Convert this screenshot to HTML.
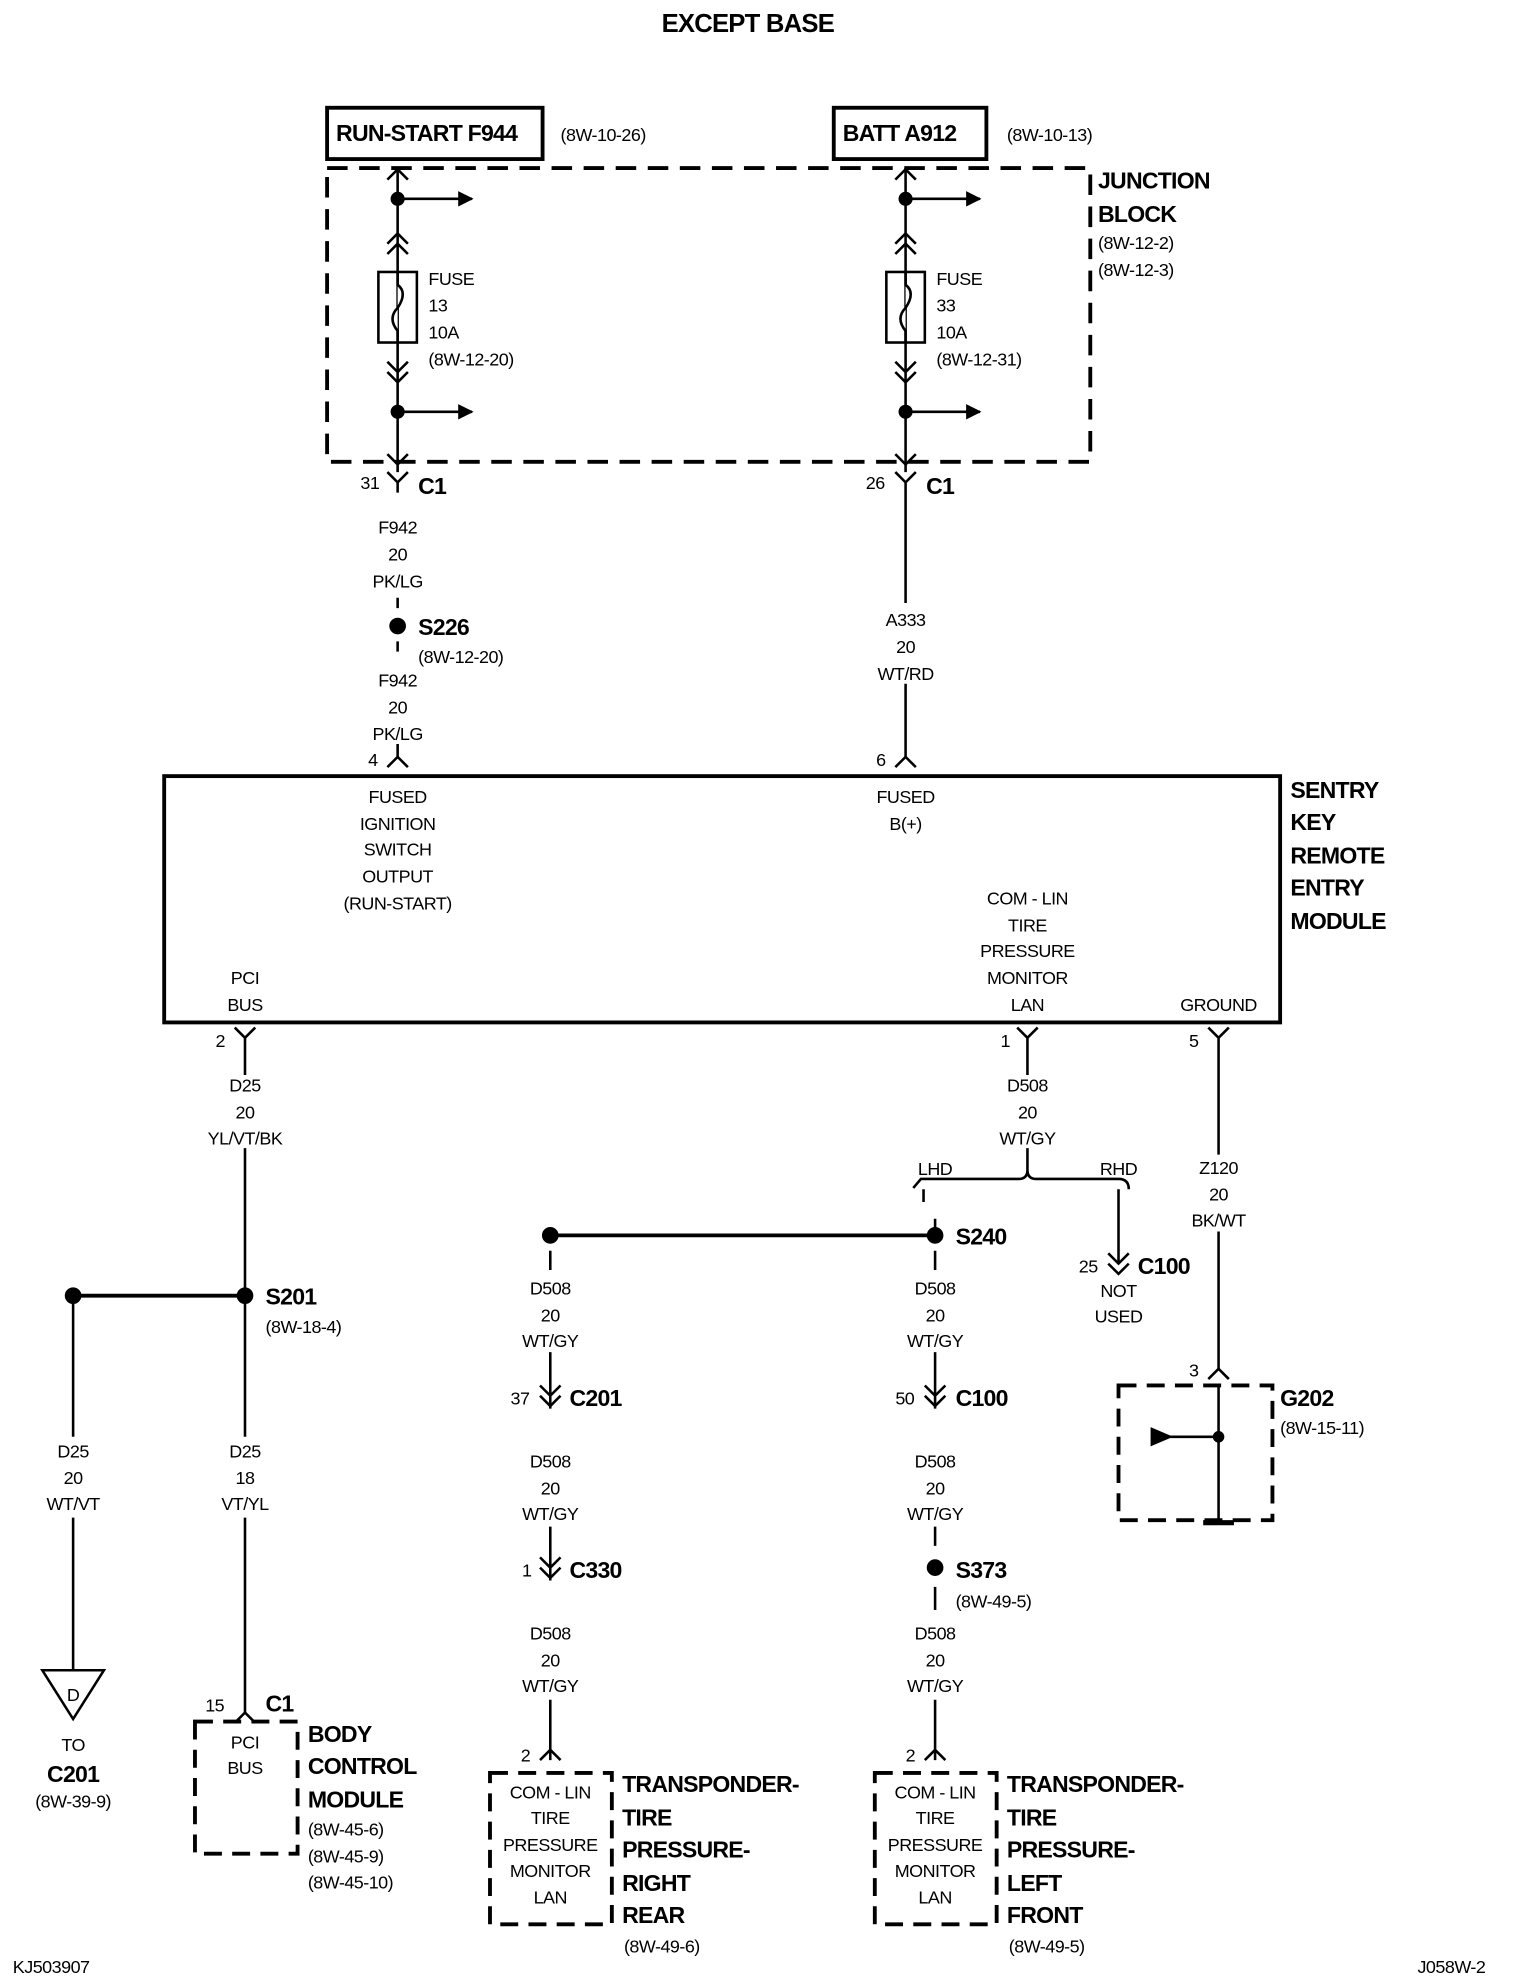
<!DOCTYPE html>
<html><head><meta charset="utf-8"><style>
html,body{margin:0;padding:0;background:#fff;}
svg{display:block;}
text{font-family:"Liberation Sans",Arial,sans-serif;fill:#000;letter-spacing:-0.4px;}
.t{font-size:14px;text-anchor:middle;}
.l{font-size:14px;}
.b{font-size:18px;font-weight:bold;letter-spacing:-0.6px;}
</style></head><body>
<svg width="1520" height="1982" viewBox="0 0 1185 1545" preserveAspectRatio="none" xmlns="http://www.w3.org/2000/svg">
<defs>
<marker id="ar" viewBox="0 0 10 10" refX="9" refY="5" markerWidth="6" markerHeight="6" orient="auto"><path d="M0,0 L10,5 L0,10 z"/></marker>
</defs>
<g stroke="#000" fill="none" stroke-width="2">
<text x="583" y="25" class="b" style="text-anchor:middle;font-size:20px" stroke="none">EXCEPT BASE</text>
<rect x="255" y="84" width="168" height="40" stroke-width="3"/>
<rect x="650" y="84" width="119" height="40" stroke-width="3"/>
<rect x="255" y="131" width="595" height="229" stroke-width="3" stroke-dasharray="16,9"/>
<path d="M310,131 V368"/>
<path d="M302,140 L310,132 L318,140 M302,190 L310,182 L318,190 M302,198 L310,190 L318,198"/>
<rect x="295" y="212" width="30" height="55"/>
<path d="M310,212 V222 q8,6 0,18 q-8,8 0,18 V267" fill="#fff"/>
<path d="M302,282 L310,290 L318,282 M302,290 L310,298 L318,290"/>
<path d="M302,354 L310,362 L318,354"/>
<path d="M310,155 H368" marker-end="url(#ar)"/>
<path d="M310,321 H368" marker-end="url(#ar)"/>
<circle cx="310" cy="155" r="4.5" fill="#000"/>
<circle cx="310" cy="321" r="4.5" fill="#000"/>
<path d="M302,368 L310,376 L318,368 M310,376 V384"/>
<path d="M706,131 V368"/>
<path d="M698,140 L706,132 L714,140 M698,190 L706,182 L714,190 M698,198 L706,190 L714,198"/>
<rect x="691" y="212" width="30" height="55"/>
<path d="M706,212 V222 q8,6 0,18 q-8,8 0,18 V267" fill="#fff"/>
<path d="M698,282 L706,290 L714,282 M698,290 L706,298 L714,290"/>
<path d="M698,354 L706,362 L714,354"/>
<path d="M706,155 H764" marker-end="url(#ar)"/>
<path d="M706,321 H764" marker-end="url(#ar)"/>
<circle cx="706" cy="155" r="4.5" fill="#000"/>
<circle cx="706" cy="321" r="4.5" fill="#000"/>
<path d="M698,368 L706,376 L714,368 M706,376 V470 M706,533 V590"/>
<path d="M698,598 L706,590 L714,598"/>
<path d="M310,466 V474 M310,500 V508 M310,580 V590"/>
<path d="M302,598 L310,590 L318,598"/>
<circle cx="310" cy="488" r="5.5" fill="#000"/>
<rect x="128" y="605" width="870" height="192" stroke-width="3"/>
<path d="M183,801 L191,809 L199,801 M191,809 V838 M191,895 V1120 M191,1183 V1335"/>
<path d="M793,801 L801,809 L809,801 M801,809 V838 M801,895 V912"/>
<path d="M942,801 L950,809 L958,801 M950,809 V900 M950,960 V1068"/>
<path d="M942,1075 L950,1067 L958,1075"/>
<path d="M712,926 L718,919 H794 Q801,919 801,912 Q801,919 808,919 H872 Q880,919 880,927"/>
<path d="M720,927 V937 M729,950 V963"/>
<path d="M872,927 V985 M864,977 L872,985 L880,977 M864,985 L872,993 L880,985"/>
<path d="M57,1010 H191" stroke-width="3"/>
<circle cx="57" cy="1010" r="5.5" fill="#000"/>
<circle cx="191" cy="1010" r="5.5" fill="#000"/>
<path d="M57,1010 V1120 M57,1183 V1302"/>
<path d="M33,1302 H81 L57,1340 Z"/>
<path d="M183,1343 L191,1335 L199,1343"/>
<rect x="152" y="1342" width="80" height="103" stroke-width="3" stroke-dasharray="14,8"/>
<path d="M429,963 H729" stroke-width="3"/>
<circle cx="429" cy="963" r="5.5" fill="#000"/>
<circle cx="729" cy="963" r="5.5" fill="#000"/>
<path d="M429,975 V990 M429,1054 V1098 M421,1080 L429,1088 L437,1080 M421,1088 L429,1096 L437,1088 M429,1190 V1232 M421,1214 L429,1222 L437,1214 M421,1222 L429,1230 L437,1222 M429,1325 V1372 M421,1372 L429,1364 L437,1372"/>
<rect x="382" y="1382" width="95" height="118" stroke-width="3" stroke-dasharray="14,8"/>
<path d="M729,975 V990 M729,1054 V1098 M721,1080 L729,1088 L737,1080 M721,1088 L729,1096 L737,1088 M729,1190 V1205 M729,1237 V1255 M729,1325 V1372 M721,1372 L729,1364 L737,1372"/>
<circle cx="729" cy="1222" r="5.5" fill="#000"/>
<rect x="682" y="1382" width="95" height="118" stroke-width="3" stroke-dasharray="14,8"/>
<rect x="872" y="1080" width="120" height="105" stroke-width="3" stroke-dasharray="14,8"/>
<path d="M950,1080 V1186 M950,1120 H905"/>
<path d="M898,1114 L912,1120 L898,1126 Z" fill="#000"/>
<circle cx="950" cy="1120" r="3.5" fill="#000"/>
<path d="M938,1187 H962" stroke-width="4"/>
</g>
<g stroke="none">
<text x="262" y="110" class="b">RUN-START F944</text>
<text x="437" y="110" class="l">(8W-10-26)</text>
<text x="657" y="110" class="b">BATT A912</text>
<text x="785" y="110" class="l">(8W-10-13)</text>
<text x="856" y="147" class="b">JUNCTION</text>
<text x="856" y="173" class="b">BLOCK</text>
<text x="856" y="194" class="l">(8W-12-2)</text>
<text x="856" y="215" class="l">(8W-12-3)</text>
<text x="334" y="222" class="l">FUSE</text><text x="334" y="243" class="l">13</text><text x="334" y="264" class="l">10A</text><text x="334" y="285" class="l">(8W-12-20)</text>
<text x="730" y="222" class="l">FUSE</text><text x="730" y="243" class="l">33</text><text x="730" y="264" class="l">10A</text><text x="730" y="285" class="l">(8W-12-31)</text>
<text x="281" y="381" class="l">31</text><text x="326" y="385" class="b">C1</text>
<text x="675" y="381" class="l">26</text><text x="722" y="385" class="b">C1</text>
<text x="310" y="416" class="t">F942</text><text x="310" y="437" class="t">20</text><text x="310" y="458" class="t">PK/LG</text>
<text x="326" y="495" class="b">S226</text><text x="326" y="517" class="l">(8W-12-20)</text>
<text x="310" y="535" class="t">F942</text><text x="310" y="556" class="t">20</text><text x="310" y="577" class="t">PK/LG</text>
<text x="287" y="597" class="l">4</text><text x="683" y="597" class="l">6</text>
<text x="706" y="488" class="t">A333</text><text x="706" y="509" class="t">20</text><text x="706" y="530" class="t">WT/RD</text>
<text x="1006" y="622" class="b">SENTRY</text><text x="1006" y="647" class="b">KEY</text><text x="1006" y="673" class="b">REMOTE</text><text x="1006" y="698" class="b">ENTRY</text><text x="1006" y="724" class="b">MODULE</text>
<text x="310" y="626" class="t">FUSED</text><text x="310" y="647" class="t">IGNITION</text><text x="310" y="667" class="t">SWITCH</text><text x="310" y="688" class="t">OUTPUT</text><text x="310" y="709" class="t">(RUN-START)</text>
<text x="706" y="626" class="t">FUSED</text><text x="706" y="647" class="t">B(+)</text>
<text x="801" y="705" class="t">COM - LIN</text><text x="801" y="726" class="t">TIRE</text><text x="801" y="746" class="t">PRESSURE</text><text x="801" y="767" class="t">MONITOR</text><text x="801" y="788" class="t">LAN</text>
<text x="191" y="767" class="t">PCI</text><text x="191" y="788" class="t">BUS</text>
<text x="950" y="788" class="t">GROUND</text>
<text x="168" y="816" class="l">2</text><text x="780" y="816" class="l">1</text><text x="927" y="816" class="l">5</text>
<text x="191" y="851" class="t">D25</text><text x="191" y="872" class="t">20</text><text x="191" y="892" class="t">YL/VT/BK</text>
<text x="801" y="851" class="t">D508</text><text x="801" y="872" class="t">20</text><text x="801" y="892" class="t">WT/GY</text>
<text x="729" y="916" class="t">LHD</text><text x="872" y="916" class="t">RHD</text>
<text x="950" y="915" class="t">Z120</text><text x="950" y="936" class="t">20</text><text x="950" y="956" class="t">BK/WT</text>
<text x="745" y="970" class="b">S240</text>
<text x="841" y="992" class="l">25</text><text x="887" y="993" class="b">C100</text>
<text x="872" y="1011" class="t">NOT</text><text x="872" y="1031" class="t">USED</text>
<text x="207" y="1017" class="b">S201</text><text x="207" y="1039" class="l">(8W-18-4)</text>
<text x="429" y="1009" class="t">D508</text><text x="429" y="1030" class="t">20</text><text x="429" y="1050" class="t">WT/GY</text>
<text x="729" y="1009" class="t">D508</text><text x="729" y="1030" class="t">20</text><text x="729" y="1050" class="t">WT/GY</text>
<text x="398" y="1095" class="l">37</text><text x="444" y="1096" class="b">C201</text>
<text x="698" y="1095" class="l">50</text><text x="745" y="1096" class="b">C100</text>
<text x="927" y="1073" class="l">3</text>
<text x="998" y="1096" class="b">G202</text><text x="998" y="1118" class="l">(8W-15-11)</text>
<text x="57" y="1136" class="t">D25</text><text x="57" y="1157" class="t">20</text><text x="57" y="1177" class="t">WT/VT</text>
<text x="191" y="1136" class="t">D25</text><text x="191" y="1157" class="t">18</text><text x="191" y="1177" class="t">VT/YL</text>
<text x="429" y="1144" class="t">D508</text><text x="429" y="1165" class="t">20</text><text x="429" y="1185" class="t">WT/GY</text>
<text x="729" y="1144" class="t">D508</text><text x="729" y="1165" class="t">20</text><text x="729" y="1185" class="t">WT/GY</text>
<text x="407" y="1229" class="l">1</text><text x="444" y="1230" class="b">C330</text>
<text x="745" y="1230" class="b">S373</text><text x="745" y="1253" class="l">(8W-49-5)</text>
<text x="429" y="1278" class="t">D508</text><text x="429" y="1299" class="t">20</text><text x="429" y="1319" class="t">WT/GY</text>
<text x="729" y="1278" class="t">D508</text><text x="729" y="1299" class="t">20</text><text x="729" y="1319" class="t">WT/GY</text>
<text x="57" y="1326" class="t">D</text>
<text x="57" y="1365" class="t">TO</text><text x="57" y="1389" class="b" style="text-anchor:middle">C201</text><text x="57" y="1409" class="t">(8W-39-9)</text>
<text x="160" y="1334" class="l">15</text><text x="207" y="1334" class="b">C1</text>
<text x="191" y="1363" class="t">PCI</text><text x="191" y="1383" class="t">BUS</text>
<text x="240" y="1358" class="b">BODY</text><text x="240" y="1383" class="b">CONTROL</text><text x="240" y="1409" class="b">MODULE</text>
<text x="240" y="1431" class="l">(8W-45-6)</text><text x="240" y="1452" class="l">(8W-45-9)</text><text x="240" y="1472" class="l">(8W-45-10)</text>
<text x="406" y="1373" class="l">2</text><text x="706" y="1373" class="l">2</text>
<text x="429" y="1402" class="t">COM - LIN</text><text x="429" y="1422" class="t">TIRE</text><text x="429" y="1443" class="t">PRESSURE</text><text x="429" y="1463" class="t">MONITOR</text><text x="429" y="1484" class="t">LAN</text>
<text x="729" y="1402" class="t">COM - LIN</text><text x="729" y="1422" class="t">TIRE</text><text x="729" y="1443" class="t">PRESSURE</text><text x="729" y="1463" class="t">MONITOR</text><text x="729" y="1484" class="t">LAN</text>
<text x="485" y="1397" class="b">TRANSPONDER-</text><text x="485" y="1423" class="b">TIRE</text><text x="485" y="1448" class="b">PRESSURE-</text><text x="485" y="1474" class="b">RIGHT</text><text x="485" y="1499" class="b">REAR</text>
<text x="516" y="1522" class="t">(8W-49-6)</text>
<text x="785" y="1397" class="b">TRANSPONDER-</text><text x="785" y="1423" class="b">TIRE</text><text x="785" y="1448" class="b">PRESSURE-</text><text x="785" y="1474" class="b">LEFT</text><text x="785" y="1499" class="b">FRONT</text>
<text x="816" y="1522" class="t">(8W-49-5)</text>
<text x="10" y="1538" class="l">KJ503907</text>
<text x="1158" y="1538" class="l" style="text-anchor:end">J058W-2</text>
</g>
</svg>
</body></html>
